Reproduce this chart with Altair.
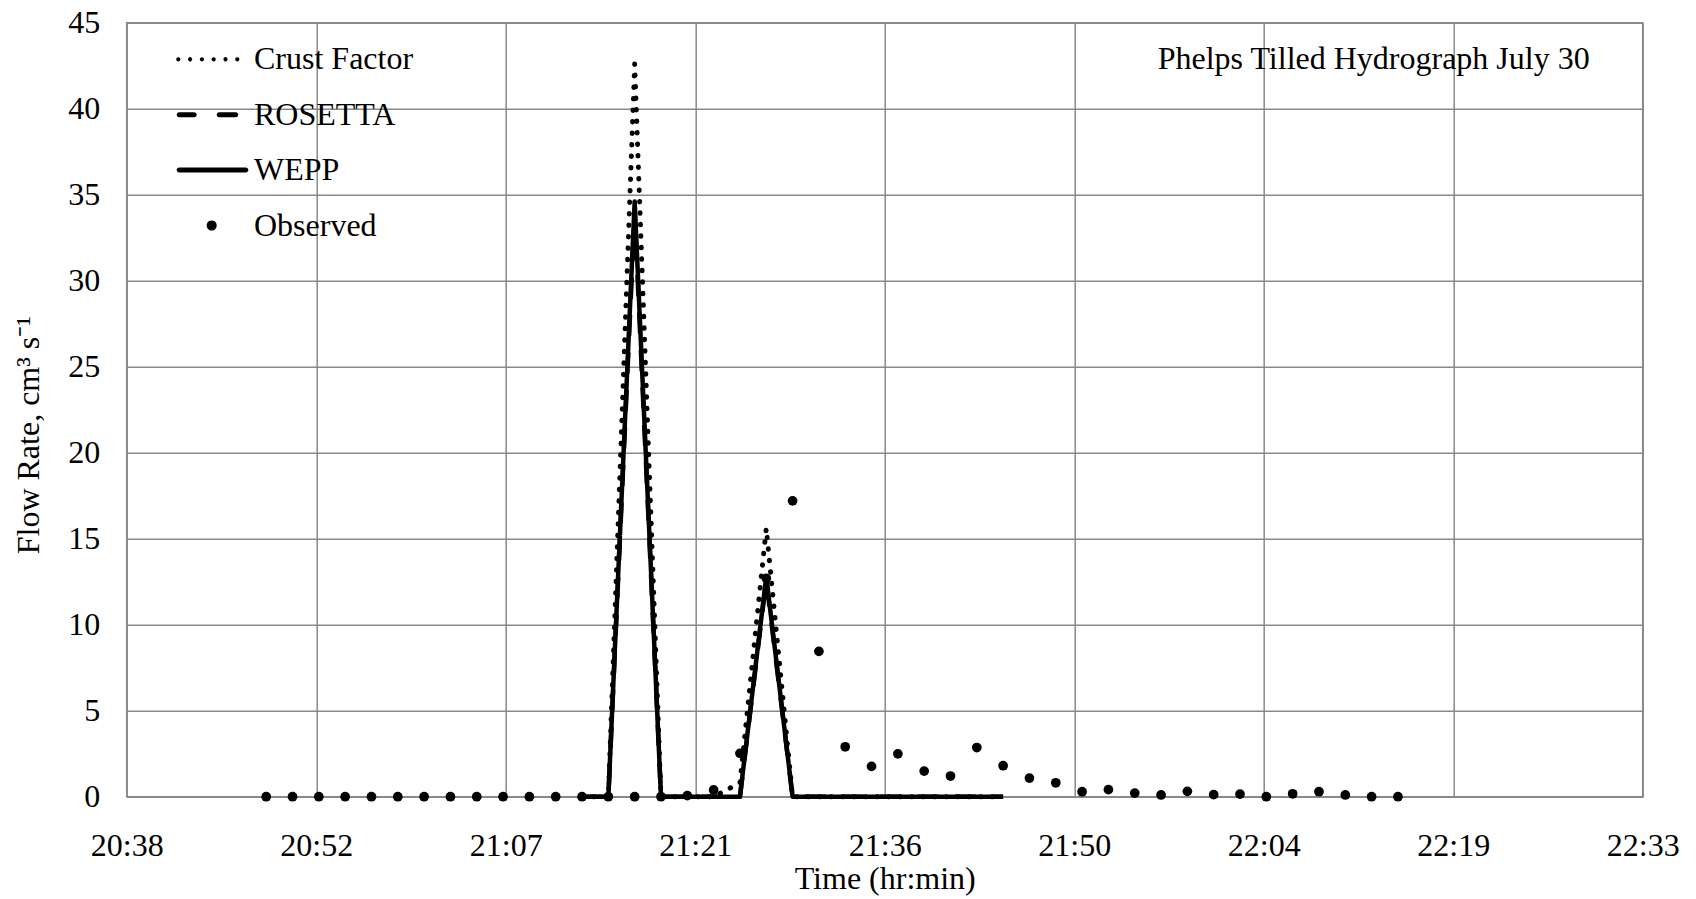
import altair as alt
import pandas as pd

# ---------------- data ----------------
obs_times = ["20:49", "20:51", "20:53", "20:55", "20:57", "20:59", "21:01", "21:03",
             "21:05", "21:07", "21:09", "21:11", "21:13", "21:15", "21:17", "21:19",
             "21:21", "21:23", "21:25", "21:27", "21:29", "21:31", "21:33", "21:35",
             "21:37", "21:39", "21:41", "21:43", "21:45", "21:47", "21:49", "21:51",
             "21:53", "21:55", "21:57", "21:59", "22:01", "22:03", "22:05", "22:07",
             "22:09", "22:11", "22:13", "22:15"]
observed = [0, 0, 0, 0, 0, 0, 0, 0,
            0, 0, 0, 0, 0, 0, 0, 0,
            0.06, 0.39, 2.52, 12.7, 17.2, 8.45, 2.9, 1.76,
            2.49, 1.49, 1.2, 2.86, 1.8, 1.08, 0.81, 0.29,
            0.41, 0.21, 0.10, 0.31, 0.12, 0.15, 0.0, 0.17,
            0.29, 0.10, 0.0, 0.0]

model_times = ["21:13", "21:15", "21:17", "21:19", "21:21", "21:23", "21:25", "21:27",
               "21:29", "21:31", "21:33", "21:35", "21:37", "21:39", "21:41", "21:43", "21:45"]
crust_factor = [0, 0, 42.6, 0, 0, 0, 0.8, 15.6, 0, 0, 0, 0, 0, 0, 0, 0, 0]
rosetta = [0, 0, 34.0, 0, 0, 0, 0, 12.6, 0, 0, 0, 0, 0, 0, 0, 0, 0]
wepp = [0, 0, 34.6, 0, 0, 0, 0, 12.8, 0, 0, 0, 0, 0, 0, 0, 0, 0]

series_names = ["Crust Factor", "ROSETTA", "WEPP", "Observed"]

x_tick_values = [0.86, 0.87, 0.88, 0.89, 0.90, 0.91, 0.92, 0.93, 0.94]  # fraction of a day
x_tick_labels = ["20:38", "20:52", "21:07", "21:21", "21:36", "21:50", "22:04", "22:19", "22:33"]
y_tick_values = [0, 5, 10, 15, 20, 25, 30, 35, 40, 45]


def to_day(s):
    h, m = s.split(":")
    return (int(h) * 60 + int(m)) / 1440.0


rows = []
for name, vals in [("Crust Factor", crust_factor), ("ROSETTA", rosetta), ("WEPP", wepp)]:
    for t, v in zip(model_times, vals):
        rows.append({"t": to_day(t), "v": v, "series": name})
lines_df = pd.DataFrame(rows)
obs_df = pd.DataFrame({"t": [to_day(t) for t in obs_times], "v": observed})

FONT = "Liberation Serif"
FS = 32
GRID = "#898989"

label_list = "[" + ",".join("'%s'" % s for s in x_tick_labels) + "]"
x_enc = alt.X(
    "t:Q",
    scale=alt.Scale(domain=[0.86, 0.94], nice=False, zero=False),
    axis=alt.Axis(values=x_tick_values,
                  labelExpr=label_list + "[round((datum.value - 0.86) * 100)]",
                  title="Time (hr:min)", labelPadding=34, labelFlush=False,
                  labelOverlap=False, titleX=758, titleY=82, titleBaseline="middle",
                  titleAlign="center"),
)
y_enc = alt.Y(
    "v:Q",
    scale=alt.Scale(domain=[0, 45], nice=False),
    axis=alt.Axis(values=y_tick_values, title="Flow Rate, cm³ s⁻¹", labelPadding=27,
                  labelFlush=False, labelOverlap=False, titleAngle=270, titleX=-98,
                  titleY=412, titleBaseline="middle", titleAlign="center"),
)

# ---- legend symbol shapes (unit coords; 1 unit = 27 px for symbolSize 2916) ----
U = 27.0


def circ(cx_px, r_px):
    cx, r = cx_px / U, r_px / U
    return "M%.4f,0A%.4f,%.4f 0 1,0 %.4f,0A%.4f,%.4f 0 1,0 %.4f,0Z" % (
        cx - r, r, r, cx + r, r, r, cx - r)


def capsule(x0_px, x1_px, h_px):
    h = h_px / U
    a, b = (x0_px + h_px) / U, (x1_px - h_px) / U
    return "M%.4f,%.4fL%.4f,%.4fA%.4f,%.4f 0 0,1 %.4f,%.4fL%.4f,%.4fA%.4f,%.4f 0 0,1 %.4f,%.4fZ" % (
        a, -h, b, -h, h, h, b, h, a, h, h, h, a, -h)


dots_path = "".join(circ(c, 2.1) for c in [-29.5, -17.7, -5.9, 5.9, 17.7, 29.5])
dash_path = capsule(-31.1, -11.1, 2.5) + capsule(8.9, 30.5, 2.5)
solid_path = capsule(-31.1, 40.5, 2.5)
obs_path = circ(3.9, 5.0)
shape_expr = ("datum.value === 'Crust Factor' ? '%s' : datum.value === 'ROSETTA' ? '%s' : "
              "datum.value === 'WEPP' ? '%s' : '%s'" % (dots_path, dash_path, solid_path, obs_path))

legend = alt.Legend(
    title=None, orient="none", legendX=54.1, legendY=9.6, padding=0,
    rowPadding=12.4, symbolSize=2916, symbolStrokeWidth=0, symbolFillColor="black",
    symbolType=alt.ExprRef(expr=shape_expr),
    labelFont=FONT, labelFontSize=FS, labelColor="black",
    labelOffset=19.2, labelLimit=400,
)
dash_enc = alt.StrokeDash(
    "series:N",
    scale=alt.Scale(domain=series_names, range=[[1, 0], [21, 16.5], [1, 0], [1, 0]]),
    legend=legend,
)


def line_layer(name, dashed_by_scale=True):
    base = alt.Chart(lines_df).transform_filter(alt.datum.series == name)
    if dashed_by_scale:
        return (base.mark_line(color="black", strokeWidth=4.5, strokeCap="butt",
                               strokeJoin="round")
                .encode(x=x_enc, y=y_enc, strokeDash=dash_enc))
    return (base.mark_line(color="black", strokeWidth=5, strokeCap="round",
                           strokeJoin="round", strokeDash=[0.5, 11.0])
            .encode(x=x_enc, y=y_enc))


points = alt.Chart(obs_df).mark_circle(color="black", opacity=1, size=95).encode(x=x_enc, y=y_enc)

chart = (
    alt.layer(line_layer("ROSETTA"), line_layer("Crust Factor", dashed_by_scale=False),
              line_layer("WEPP"), points)
    .properties(
        width=1516, height=774,
        autosize=alt.AutoSizeParams(type="none"),
        padding={"left": 126.7, "top": 22.7, "right": 53.3, "bottom": 102.3},
        background="white",
        title=alt.TitleParams(
            text="Phelps Tilled Hydrograph July 30", anchor="end", frame="group",
            orient="top", baseline="middle", dx=-53, dy=84, offset=0, font=FONT,
            fontSize=FS, fontWeight="normal", color="black"),
    )
    .configure_view(stroke=GRID, strokeWidth=1.5)
    .configure_axis(grid=True, gridColor=GRID, gridWidth=1.5, domain=False, ticks=False,
                    tickSize=0, labelFont=FONT, labelFontSize=FS, labelColor="black",
                    titleFont=FONT, titleFontSize=FS, titleFontWeight="normal",
                    titleColor="black")
)

chart.save("out.html", embed_options={"renderer": "svg", "actions": False})
